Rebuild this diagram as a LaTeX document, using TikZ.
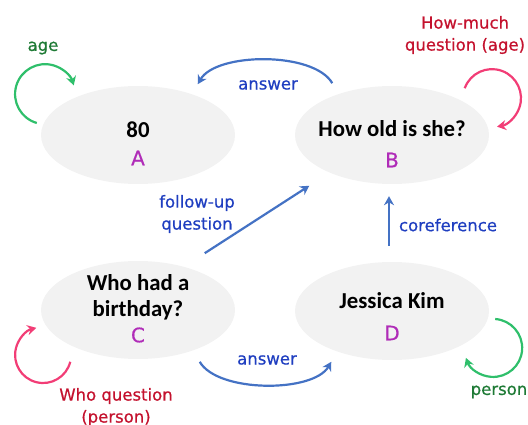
\documentclass[tikz,border=0pt]{standalone}
\usepackage{fontspec}
\setmainfont{Carlito}
\newfontfamily\handfont[FakeBold=0.6]{DejaVu Sans}
\usepackage{xcolor}
\usetikzlibrary{positioning,arrows.meta,shapes.geometric}
\definecolor{blobgray}{HTML}{F2F2F2}
\definecolor{flowblue}{HTML}{4472C4}
\definecolor{textblue}{HTML}{1F3EC0}
\definecolor{loopgreen}{HTML}{2FBF6B}
\definecolor{textgreen}{HTML}{1E7A35}
\definecolor{looppink}{HTML}{F23D76}
\definecolor{textred}{HTML}{C4122E}
\definecolor{tagpurple}{HTML}{B02CB8}

\begin{document}
\begin{tikzpicture}[x=1pt, y=-1pt,
  blob/.style={ellipse, fill=blobgray, minimum width=194pt, minimum height=98pt, inner sep=0pt},
  word/.style={font=\fontsize{22.8}{26}\selectfont\bfseries, align=center, inner sep=0pt},
  tag/.style={font=\handfont\fontsize{20}{20}\selectfont, text=tagpurple, inner sep=0pt},
  lbl/.style={font=\handfont\fontsize{16.5}{22}\selectfont, align=center, inner sep=0pt},
  flow/.style={draw=flowblue, line width=2.2pt, ->},
  gloop/.style={draw=loopgreen, line width=2.2pt, ->},
  ploop/.style={draw=looppink, line width=2.2pt, ->},
  >={Stealth[length=9pt,width=10pt]}]
\useasboundingbox (0,0) rectangle (528,425);
% the four utterance blobs
\node[blob] (A) at (138,135) {};
\node[blob] (B) at (392,135) {};
\node[blob] (C) at (138,310) {};
\node[blob] (D) at (392,311) {};
\node[word] (At) at (138,130) {80};
\node[word] (Bt) at (392,129) {How old is she?};
\node[word] (Ct) at (138,297) {Who had a\\birthday?};
\node[word] (Dt) at (392,301) {Jessica Kim};
\node[tag] (Ag) at (138,158) {A};
\node[tag] (Bg) at (392,160) {B};
\node[tag] (Cg) at (138,335) {C};
\node[tag] (Dg) at (392,333) {D};
% links between blobs
\draw[flow] ([xshift=9pt,yshift=17pt]B.north west) to[out=120,in=60,looseness=0.7] ([xshift=-9pt,yshift=16pt]A.north east);
\node[lbl, text=textblue] (ans1) at (268,85) {answer};
\draw[flow] ([xshift=-2pt,yshift=22pt]C.north east) -- ([xshift=-14pt,yshift=-16pt]B.south west);
\node[lbl, text=textblue] (fup) at (197,214) {follow-up\\question};
\draw[flow] ([xshift=-3pt,yshift=16pt]D.north) -- ([xshift=-3pt,yshift=-12pt]B.south);
\node[lbl, text=textblue] (coref) at (448,225) {coreference};
\draw[flow] ([xshift=-7pt,yshift=-17pt]C.south east) to[out=-60,in=-120,looseness=0.7] ([xshift=8pt,yshift=-16pt]D.south west);
\node[lbl, text=textblue] (ans2) at (267,360) {answer};
% self loops
\draw[gloop] ([xshift=-4pt,yshift=12pt]A.west) arc[start angle=106, end angle=343, radius=30];
\node[lbl, text=textgreen] (age) at (43,48) {age};
\draw[ploop] ([xshift=4pt,yshift=12pt]B.north east) arc[start angle=200, end angle=440, radius=29];
\node[lbl, text=textred] (howq) at (465,35) {How-much\\question (age)};
\draw[ploop] ([xshift=1pt,yshift=-17pt]C.south west) arc[start angle=14, end angle=256, radius=28];
\node[lbl, text=textred] (whoq) at (116,407) {Who question\\(person)};
\draw[gloop] ([xshift=6pt,yshift=-8pt]D.east) arc[start angle=-86, end angle=160, radius=29];
\node[lbl, text=textgreen] (pers) at (499,392) {person};
\end{tikzpicture}
\end{document}
